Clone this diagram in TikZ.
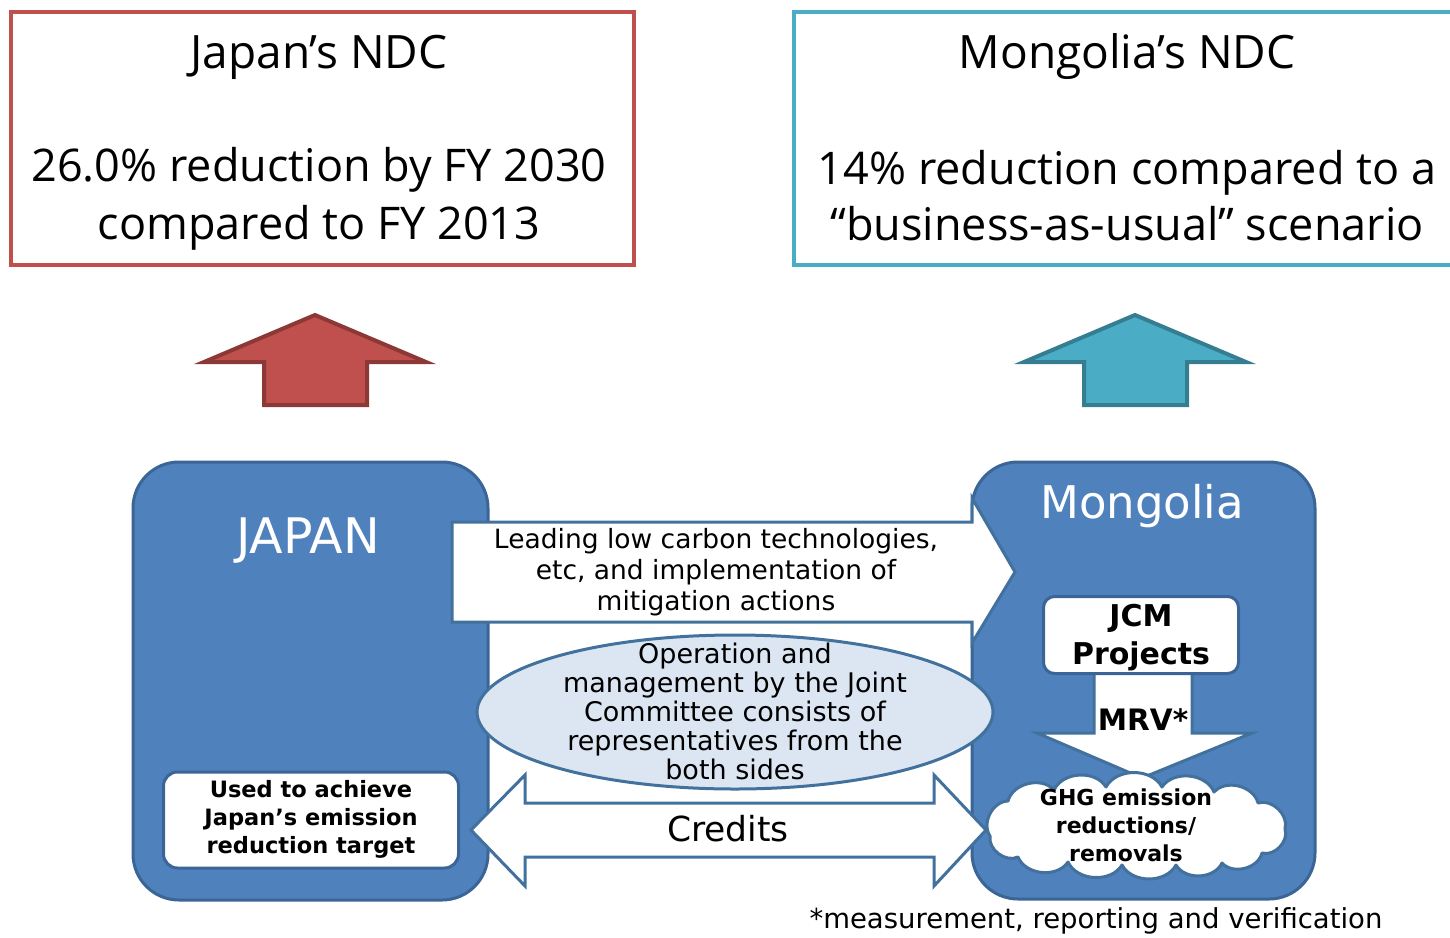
\documentclass[tikz,border=0pt]{standalone}
\usepackage{fontspec}
\setmainfont{Open Sans}
\newfontfamily\vfont{DejaVu Sans}
\usetikzlibrary{shapes.geometric,shapes.symbols}
\definecolor{jred}{HTML}{C0504D}
\definecolor{jreddark}{HTML}{8C3836}
\definecolor{mblue}{HTML}{4BACC6}
\definecolor{mbluedark}{HTML}{357D91}
\definecolor{cfill}{HTML}{4F81BD}
\definecolor{cline}{HTML}{3A6596}
\definecolor{aline}{HTML}{41719C}
\definecolor{efill}{HTML}{DCE6F2}
\begin{document}
\begin{tikzpicture}[x=1pt,y=-1pt,
  ndcbox/.style={line width=4, anchor=north west, inner sep=0},
  ndctitle/.style={font=\fontsize{46}{58}\selectfont, anchor=base},
  ndctext/.style={font=\fontsize{45}{58}\selectfont, anchor=base},
  country/.style={fill=cfill, draw=cline, line width=3, rounded corners=46, inner sep=0},
  countrylbl/.style={text=white, font=\vfont\fontsize{45}{50}\selectfont},
  bigarrow/.style={line width=4, line join=miter},
  whitearrow/.style={fill=white, draw=aline, line width=3, line join=miter},
  midtext/.style={font=\vfont\fontsize{26.5}{31}\selectfont, align=center},
  boldtext/.style={font=\vfont\bfseries\fontsize{22.5}{28}\selectfont, align=center},
  whitebox/.style={fill=white, draw=cline, line width=3, rounded corners=14, inner sep=0},
  puff/.style={bend left=62}
]
\clip (0,0) rectangle (1450,937);
% NDC boxes
\node[ndcbox, draw=jred, minimum width=623, minimum height=253] (jndc) at (9,10) {};
\node[ndcbox, draw=mblue, minimum width=680, minimum height=253] (mndc) at (792,10) {};
\node[ndctitle] (jt1) at (319,68) {Japan’s NDC};
\node[ndctext] (jt2) at (319,181) {26.0\% reduction by FY 2030};
\node[ndctext] (jt3) at (319,239) {compared to FY 2013};
\node[ndctitle] (mt1) at (1127,68) {Mongolia’s NDC};
\node[ndctext] (mt2) at (1127,184) {14\% reduction compared to a};
\node[ndctext] (mt3) at (1127,240) {“business-as-usual” scenario};
% up arrows
\draw[bigarrow, fill=jred, draw=jreddark] (315,315) -- (426,362) -- (367,362) -- (367,405) -- (264,405) -- (264,362) -- (204,362) -- cycle;
\draw[bigarrow, fill=mblue, draw=mbluedark] (1135,315) -- (1246,362) -- (1187,362) -- (1187,405) -- (1084,405) -- (1084,362) -- (1024,362) -- cycle;
% country boxes
\node[country, minimum width=355, minimum height=438] (japan) at (310.5,681) {};
\node[country, minimum width=343, minimum height=437] (mongolia) at (1143.5,680.5) {};
\node[countrylbl, font=\vfont\fontsize{49}{54}\selectfont] (japanlbl) at (308,541) {JAPAN};
\node[countrylbl] (monglbl) at (1142,506) {Mongolia};
% technology arrow
\draw[whitearrow] (452,522) -- (972,522) -- (972,498) -- (1015,572) -- (972,643) -- (972,622) -- (452,622) -- cycle;
\node[midtext] (tech) at (716,572) {Leading low carbon technologies,\\etc, and implementation of\\mitigation actions};
% joint committee
\node[ellipse, fill=efill, draw=aline, line width=3, minimum width=516, minimum height=154, inner sep=0] (jc) at (735,712) {};
\node[midtext, font=\vfont\fontsize{27}{29}\selectfont] (jctext) at (735,711) {Operation and\\management by the Joint\\Committee consists of\\representatives from the\\both sides};
% credits arrow
\draw[whitearrow] (471,830) -- (525,775) -- (525,803) -- (934,803) -- (934,775) -- (986,830) -- (934,886) -- (934,857) -- (525,857) -- (525,886) -- cycle;
\node[font=\vfont\fontsize{34.5}{40}\selectfont] (credits) at (728,829) {Credits};
% Japan target box
\node[whitebox, minimum width=295, minimum height=96] (target) at (311,820) {};
\node[boldtext] (targettext) at (311,819) {Used to achieve\\Japan’s emission\\reduction target};
% MRV arrow
\draw[whitearrow] (1094,670) -- (1192,670) -- (1192,733) -- (1252,733) -- (1142,778) -- (1037,733) -- (1094,733) -- cycle;
\node[whitebox, rounded corners=11, minimum width=195, minimum height=77] (jcm) at (1141,635) {};
\node[boldtext, font=\vfont\bfseries\fontsize{30}{38}\selectfont] (jcmtext) at (1141,638) {JCM\\Projects};
\node[font=\vfont\bfseries\fontsize{29.5}{30}\selectfont] (mrv) at (1143,720) {MRV*};
% cloud
\draw[fill=white, draw=aline, line width=3, line join=round]
  (990,836) to[puff] (1008,801) to[puff] (1054,790) to[puff] (1106,787)
  to[puff] (1162,787) to[puff] (1214,792) to[puff] (1258,803) to[puff] (1285,829)
  to[puff] (1262,853) to[puff] (1222,863) to[puff] (1176,865) to[puff] (1122,865)
  to[puff] (1068,862) to[puff] (1018,857) to[puff] (990,836) -- cycle;
\node[boldtext, font=\vfont\bfseries\fontsize{22}{28}\selectfont] (ghgtext) at (1126,825) {GHG emission\\reductions/\\removals};
% footnote
\node[font=\vfont\fontsize{27.5}{30}\selectfont] (foot) at (1096,921) {*measurement, reporting and verification};
\end{tikzpicture}
\end{document}
